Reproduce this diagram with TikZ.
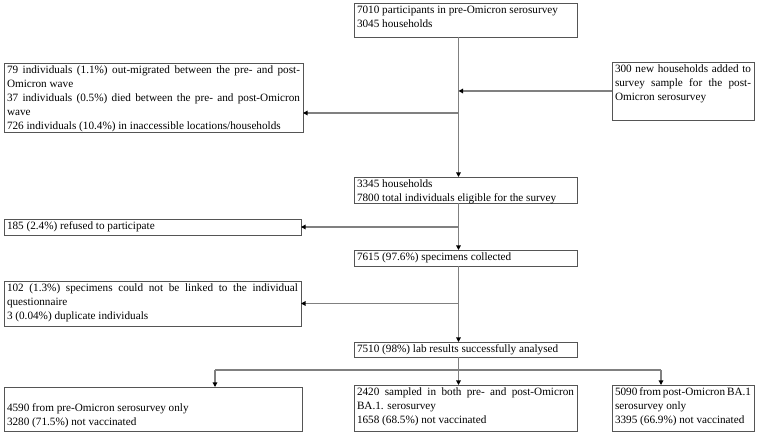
\documentclass[tikz,border=0pt]{standalone}
\usepackage{fontspec}
\setmainfont{Liberation Serif}
\usetikzlibrary{arrows.meta,calc}
\definecolor{boxgray}{HTML}{555555}
\definecolor{linegray}{HTML}{808080}
\newcommand{\bxt}[3]{\parbox[c][#2pt][t]{#1pt}{\strut #3}}
\tikzset{
  box/.style={draw=boxgray, line width=0.8pt, inner xsep=3pt, inner ysep=0.5pt,
    outer sep=0pt, anchor=north west, font=\fontsize{11.2}{14}\selectfont},
  conn/.style={draw=linegray, line width=1.3pt},
  arr/.style={conn, -{Triangle[width=4.5pt,length=4.5pt,color=black]}}
}
\begin{document}
\begin{tikzpicture}[x=1pt,y=-1pt]
\useasboundingbox (0,0) rectangle (761,435);
\node[box] (A) at (354,3) {\bxt{217}{33}{7010 participants in pre-Omicron serosurvey\\3045 households}};
\node[box] (B) at (4,63) {\bxt{293}{68}{79 individuals (1.1\%) out-migrated between the pre- and post-\linebreak Omicron wave\\37 individuals (0.5\%) died between the pre- and post-Omicron\linebreak wave\\726 individuals (10.4\%) in inaccessible locations/households}};
\node[box] (C) at (612,62) {\bxt{136}{57}{300 new households added to\linebreak survey sample for the post-\linebreak Omicron serosurvey}};
\node[box] (D) at (354,177) {\bxt{217}{25}{3345 households\\7800 total individuals eligible for the survey}};
\node[box] (E) at (4,219) {\bxt{291}{15}{185 (2.4\%) refused to participate}};
\node[box] (F) at (354,250) {\bxt{217}{15}{7615 (97.6\%) specimens collected}};
\node[box] (G) at (4,281) {\bxt{291}{44}{102 (1.3\%) specimens could not be linked to the individual\linebreak questionnaire\\3 (0.04\%) duplicate individuals}};
\node[box] (H) at (354,342) {\bxt{217}{14}{7510 (98\%) lab results successfully analysed}};
\node[box] (I) at (4,387) {\bxt{292}{43}{\mbox{}\\4590 from pre-Omicron serosurvey only\\3280 (71.5\%) not vaccinated}};
\node[box] (J) at (354,385) {\bxt{217}{45}{2420 sampled in both pre- and post-Omicron\linebreak BA.1. serosurvey\\1658 (68.5\%) not vaccinated}};
\node[box] (K) at (612,385) {\bxt{136}{45}{5090 from post-Omicron BA.1\\serosurvey only\\3395 (66.9\%) not vaccinated}};
\coordinate (sp) at (458.5,0);
\coordinate (b1) at (458.5,113);
\coordinate (bl) at (215,370);
\coordinate (bri) at (661,370);
% spine
\draw[arr] (A.south -| sp) -- (D.north -| sp);
\draw[arr] (D.south -| sp) -- (F.north -| sp);
\draw[arr] (F.south -| sp) -- (H.north -| sp);
\draw[arr] (H.south -| sp) -- (J.north -| sp);
% side arrows
\draw[arr] (C.west) -- (C.west -| sp);
\draw[arr] (b1) -- (b1 -| B.east);
\draw[arr] (E.east -| sp) -- (E.east);
\draw[arr] (G.east -| sp) -- (G.east);
% branches
\draw[conn] (bl) -- (bri);
\draw[arr] (bl) -- (bl |- I.north);
\draw[arr] (bri) -- (bri |- K.north);
\end{tikzpicture}
\end{document}
